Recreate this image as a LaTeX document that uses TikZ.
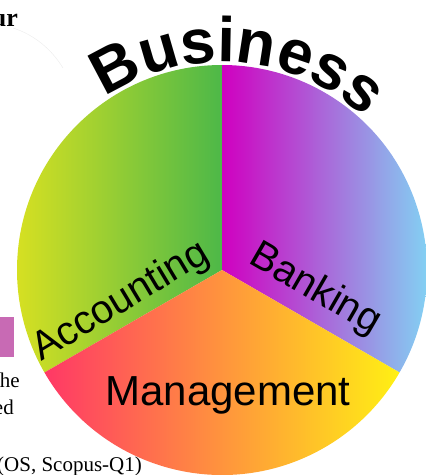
\documentclass[tikz,border=0pt]{standalone}
\usepackage{fontspec}
\setmainfont{Liberation Serif}
\setsansfont{Liberation Sans}
\usetikzlibrary{decorations.text}
\definecolor{accleft}{HTML}{D6E022}
\definecolor{accright}{HTML}{4DB848}
\definecolor{bankleft}{HTML}{D000C0}
\definecolor{bankright}{HTML}{78EEFA}
\definecolor{mgmtleft}{HTML}{FF3866}
\definecolor{mgmtright}{HTML}{FFF014}
\definecolor{tagpink}{HTML}{C86AB4}
\begin{document}
\begin{tikzpicture}[x=1pt,y=1pt,
    lbl/.style={font=\sffamily\fontsize{40}{40}\selectfont,inner sep=0pt},
    pagetxt/.style={font=\fontsize{21}{21}\selectfont,inner sep=0pt}]
        \useasboundingbox (0,0) rectangle (426,475);
        \clip (0,0) rectangle (426,475);
        \coordinate (c) at (222,205);
        %
        % the three sectors
        \shade[left color=accleft,right color=accright] (c) -- ++(90:205) arc (90:210:205) -- cycle;
        \shade[left color=bankleft,right color=bankright] (c) -- ++(-30:205) arc (-30:90:205) -- cycle;
        \shade[left color=mgmtleft,right color=mgmtright] (c) -- ++(210:205) arc (210:330:205) -- cycle;
        %
        \node[lbl,rotate=31] (acc) at (121,173) {Accounting};
        \node[lbl,rotate=-30] (bank) at (315,185) {Banking};
        \node[lbl,font=\sffamily\fontsize{42}{42}\selectfont] (mgmt) at (228,80) {Management};
        %
        % title on the arc
        \path[decorate,decoration={text along path,text align=center,
            text={|\sffamily\bfseries\fontsize{63}{63}\selectfont|Business}}]
            ([shift={(130.5:208)}]c) arc[start angle=130.5,end angle=40.5,radius=208];
        %
        % bits of the page round it
        \node[font=\bfseries\fontsize{26}{26}\selectfont,inner sep=0pt,anchor=base east] (ur) at (18,448) {ur};
        \draw[black!8,line width=0.4pt] (13,447) .. controls (35,440) and (52,425) .. (63,407);
        \fill[tagpink] (0,118) rectangle (14,158);
        \node[pagetxt,anchor=base east] (he) at (20,87) {he};
        \node[pagetxt,anchor=base east] (ed) at (14,60) {ed};
        \node[pagetxt,anchor=base west] (src) at (-3,3) {(OS, Scopus-Q1)};
\end{tikzpicture}
\end{document}
